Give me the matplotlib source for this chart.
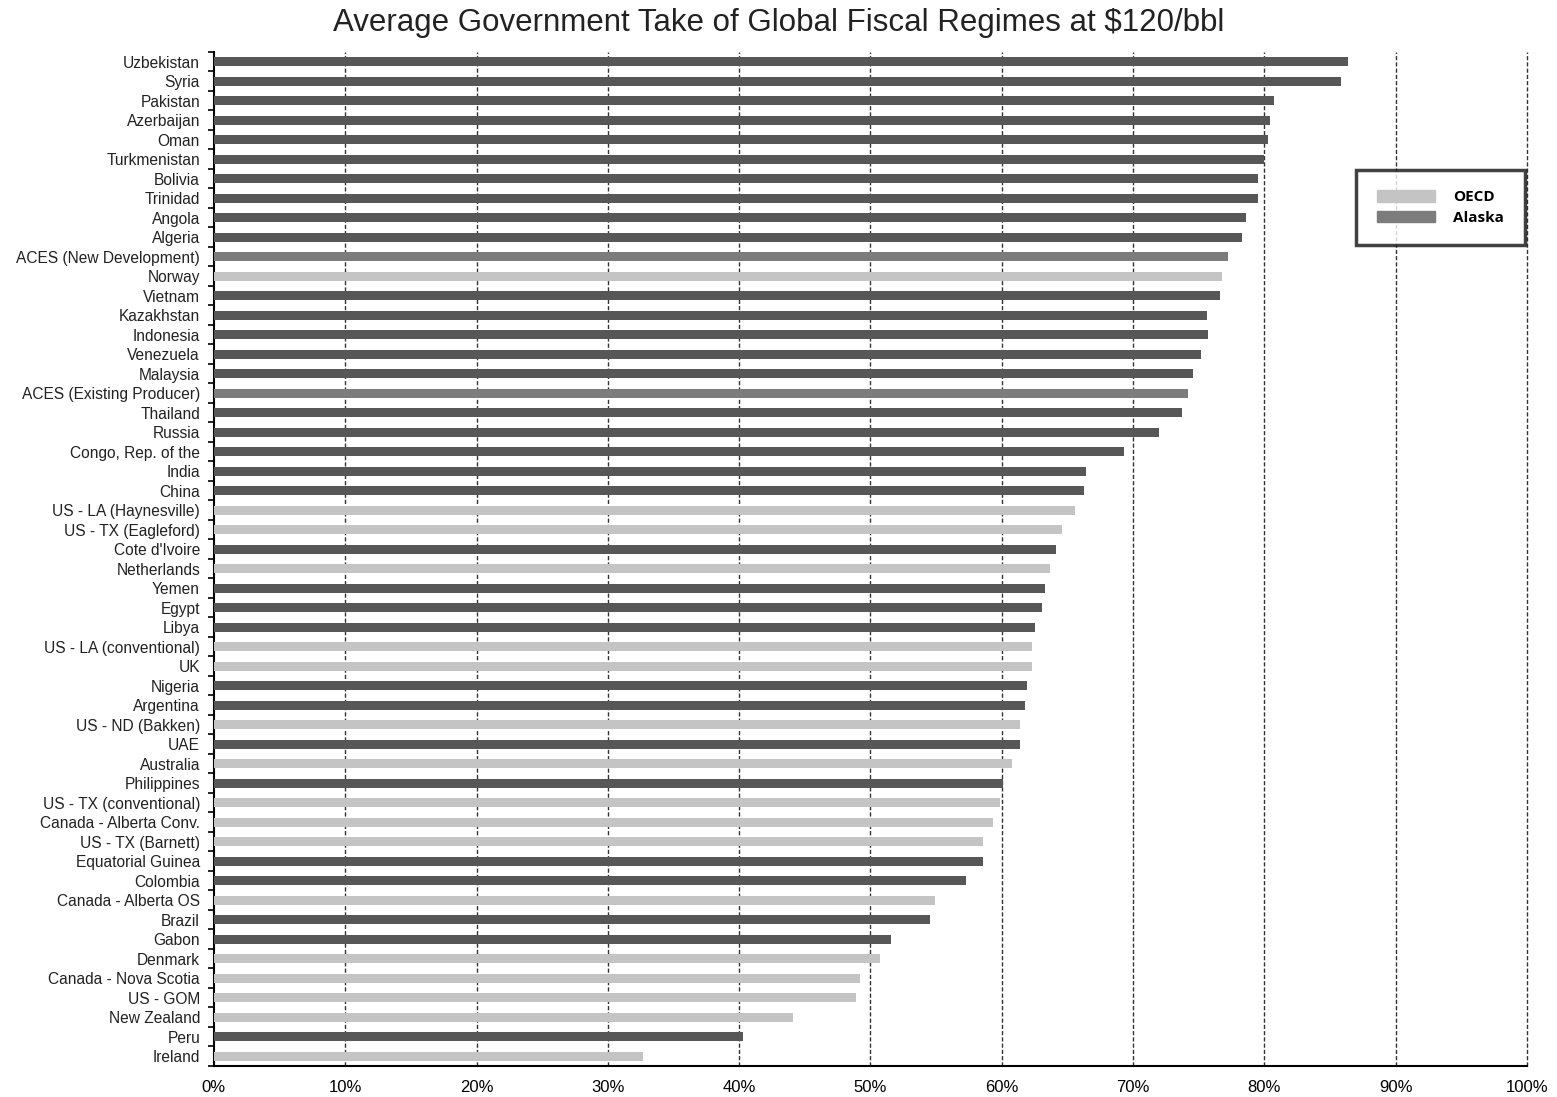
"""Average government take of global fiscal regimes at $120/bbl."""
import numpy as np
import matplotlib
matplotlib.use("Agg")
import matplotlib.pyplot as plt
from matplotlib.patches import Patch

countries = [
    "Uzbekistan", "Syria", "Pakistan", "Azerbaijan", "Oman", "Turkmenistan",
    "Bolivia", "Trinidad", "Angola", "Algeria", "ACES (New Development)",
    "Norway", "Vietnam", "Kazakhstan", "Indonesia", "Venezuela", "Malaysia",
    "ACES (Existing Producer)", "Thailand", "Russia", "Congo, Rep. of the",
    "India", "China", "US - LA (Haynesville)", "US - TX (Eagleford)",
    "Cote d'Ivoire", "Netherlands", "Yemen", "Egypt", "Libya",
    "US - LA (conventional)", "UK", "Nigeria", "Argentina", "US - ND (Bakken)",
    "UAE", "Australia", "Philippines", "US - TX (conventional)",
    "Canada - Alberta Conv.", "US - TX (Barnett)", "Equatorial Guinea",
    "Colombia", "Canada - Alberta OS", "Brazil", "Gabon", "Denmark",
    "Canada - Nova Scotia", "US - GOM", "New Zealand", "Peru", "Ireland",
]
take_pct = [
    86.4, 85.8, 80.7, 80.4, 80.3, 80.0,
    79.5, 79.5, 78.6, 78.3, 77.2,
    76.8, 76.6, 75.6, 75.7, 75.2, 74.6,
    74.2, 73.7, 72.0, 69.3,
    66.4, 66.3, 65.6, 64.6,
    64.1, 63.7, 63.3, 63.1, 62.5,
    62.3, 62.3, 61.9, 61.8, 61.4,
    61.4, 60.8, 60.1, 59.9,
    59.3, 58.6, 58.6,
    57.3, 54.9, 54.5, 51.6, 50.7,
    49.2, 48.9, 44.1, 40.3, 32.7,
]
oecd = {
    "Norway", "US - LA (Haynesville)", "US - TX (Eagleford)", "Netherlands",
    "US - LA (conventional)", "UK", "US - ND (Bakken)", "Australia",
    "US - TX (conventional)", "Canada - Alberta Conv.", "US - TX (Barnett)",
    "Canada - Alberta OS", "Denmark", "Canada - Nova Scotia", "US - GOM",
    "New Zealand", "Ireland",
}
alaska = {"ACES (New Development)", "ACES (Existing Producer)"}
x_ticks = [0, 10, 20, 30, 40, 50, 60, 70, 80, 90, 100]

C_OECD = "#c4c4c4"
C_ALASKA = "#7c7c7c"
C_OTHER = "#575757"

colors = [C_OECD if c in oecd else C_ALASKA if c in alaska else C_OTHER
          for c in countries]

plt.rcParams["font.family"] = ["Liberation Sans", "DejaVu Sans"]

fig = plt.figure(figsize=(15.57, 10.97), dpi=100)
ax = fig.add_axes([0.1374, 0.0283, 0.8433, 0.9243])

y = np.arange(len(countries))
ax.barh(y, take_pct, height=0.48, color=colors, zorder=3)

ax.set_xlim(0, 100)
ax.set_ylim(len(countries) - 0.5, -0.5)
ax.set_xticks(x_ticks)
ax.set_xticklabels([f"{v}%" for v in x_ticks], fontsize=12)
ax.set_yticks(y)
ax.set_yticklabels(countries, fontsize=11.2, color="#222222")
ax.tick_params(axis="y", which="major", length=0, pad=10)
ax.set_yticks(np.arange(-0.5, len(countries), 1), minor=True)
ax.tick_params(axis="y", which="minor", length=4, width=1.2, direction="out")
ax.tick_params(axis="x", length=0, pad=10)

for v in x_ticks[1:]:
    ax.axvline(v, color="#333333", lw=1.0, ls=(0, (3, 1.5)), zorder=1,
               clip_on=False)

for s in ["top", "right"]:
    ax.spines[s].set_visible(False)
ax.spines["left"].set_linewidth(1.5)
ax.spines["bottom"].set_linewidth(1.5)

handles = [Patch(color=C_OECD, label="OECD"), Patch(color=C_ALASKA, label="Alaska")]
leg = ax.legend(handles=handles, loc="upper right", bbox_to_anchor=(0.9985, 0.884),
                frameon=True, fancybox=False, edgecolor="#111111",
                prop={"family": "Open Sans", "weight": "bold", "size": 11},
                handlelength=3.8, handleheight=0.8, borderpad=1.35,
                labelspacing=0.4, handletextpad=1.2, borderaxespad=0)
leg.get_frame().set_linewidth(2.5)

fig.suptitle("Average Government Take of Global Fiscal Regimes at $120/bbl",
             fontsize=22.5, y=0.993, color="#222222")

fig.savefig("out.png", dpi=100)
